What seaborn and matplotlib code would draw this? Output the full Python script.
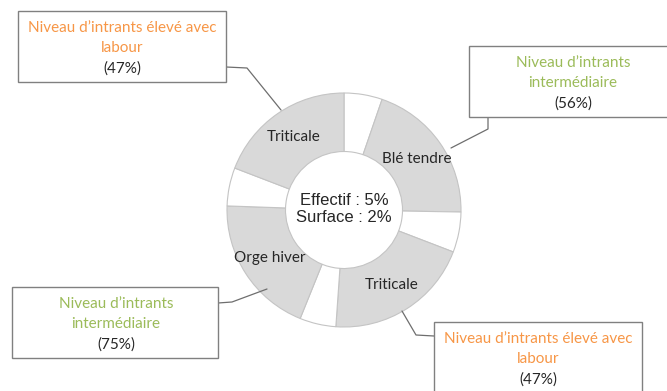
import matplotlib
matplotlib.use("Agg")
import matplotlib.pyplot as plt
import seaborn as sns
from matplotlib.patches import Rectangle

# donut segments, clockwise from 12 o'clock (degrees of the ring)
segments = ["", "Blé tendre", "", "Triticale", "", "Orge hiver", "", "Triticale"]
sizes = [19, 72, 20, 73, 18, 70, 19, 69]
is_crop = [False, True, False, True, False, True, False, True]

center_text = "Effectif : 5%\nSurface : 2%"

# callout boxes: title, share, title colour
box_titles = ["Niveau d’intrants élevé avec\nlabour",
              "Niveau d’intrants\nintermédiaire",
              "Niveau d’intrants\nintermédiaire",
              "Niveau d’intrants élevé avec\nlabour"]
box_shares = ["(47%)", "(56%)", "(75%)", "(47%)"]
box_kind = ["eleve", "inter", "inter", "eleve"]

ORANGE = "#f79646"
GREEN = "#9bbb59"
GRAY = "#d9d9d9"
TEXT = "#262626"
kind_color = {"eleve": ORANGE, "inter": GREEN}

# layout in pixel units (y downward, converted below)
W, H = 667, 391
box_rects = [(18, 11, 208, 71), (469, 46, 215, 71), (12, 287, 206, 71), (434, 322, 208, 80)]
connectors = [
    [(226, 67), (247, 68), (281, 110)],
    [(488, 117), (488, 129), (451, 148)],
    [(218, 303), (232, 302), (267, 289)],
    [(434, 336), (416, 335), (402, 311)],
]
cx, cy, r_out = 344, 210, 117

sns.set_theme(style="white")
plt.rcParams["font.family"] = ["Lato", "DejaVu Sans"]

fig = plt.figure(figsize=(W / 100, H / 100), dpi=100)
ax = fig.add_axes([0, 0, 1, 1])


def fy(y):
    return H - y


colors = [GRAY if c else "white" for c in is_crop]
wedges, texts = ax.pie(
    sizes, labels=segments, colors=colors, startangle=90, counterclock=False,
    center=(cx, fy(cy)), radius=r_out, labeldistance=0.76,
    wedgeprops=dict(width=r_out * 0.5, edgecolor="#c4c4c4", linewidth=0.8),
    textprops=dict(ha="center", va="center", fontsize=11, color=TEXT),
)

ax.text(cx, fy(cy) + 1, center_text, ha="center", va="center", multialignment="center",
        fontsize=12, color=TEXT, family=["Liberation Sans", "DejaVu Sans"], linespacing=1.1)

for (x, y, w, h), title, share, kind, line in zip(box_rects, box_titles, box_shares, box_kind, connectors):
    ax.add_patch(Rectangle((x, fy(y + h)), w, h, facecolor="white",
                           edgecolor="#808080", linewidth=1.0, zorder=3))
    ax.text(x + 104, fy(y + 27), title, ha="center", va="center", multialignment="center",
            fontsize=11, color=kind_color[kind], linespacing=1.5, zorder=4)
    ax.text(x + 104, fy(y + 58), share, ha="center", va="center", fontsize=11,
            color=TEXT, zorder=4)
    xs = [p[0] for p in line]
    ys = [fy(p[1]) for p in line]
    ax.plot(xs, ys, color="#6e6e6e", linewidth=0.9, zorder=2)

ax.set_xlim(0, W)
ax.set_ylim(0, H)
ax.set_aspect("equal")
ax.axis("off")

fig.savefig("out.png", dpi=100, facecolor="white")
